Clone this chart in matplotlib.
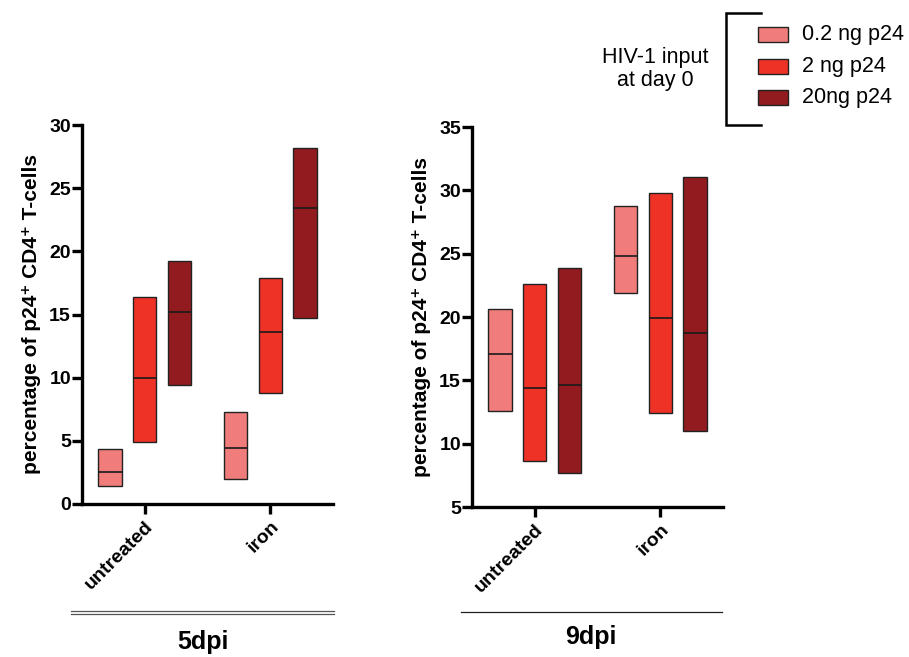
import matplotlib
matplotlib.use("Agg")
import matplotlib.pyplot as plt
from matplotlib.patches import Rectangle
from matplotlib.lines import Line2D
import numpy as np

plt.rcParams['font.family'] = ['Liberation Sans', 'DejaVu Sans']

categories = ["untreated", "iron"]
series_labels = ["0.2 ng p24", "2 ng p24", "20ng p24"]
colors = ["#F07D7B", "#EE3326", "#911B1F"]

# 5dpi: [min, median, max] per series, per category
dpi5_low = [[1.45, 2.0], [4.9, 8.8], [9.4, 14.7]]
dpi5_med = [[2.55, 4.4], [9.95, 13.65], [15.2, 23.4]]
dpi5_high = [[4.35, 7.3], [16.4, 17.85], [19.25, 28.15]]

# 9dpi
dpi9_low = [[12.6, 21.9], [8.6, 12.4], [7.7, 11.0]]
dpi9_med = [[17.05, 24.85], [14.4, 19.9], [14.6, 18.75]]
dpi9_high = [[20.6, 28.75], [22.6, 29.75], [23.85, 31.05]]

panel_titles = ["5dpi", "9dpi"]
ylims = [(0, 30), (5, 35)]
yticks = [[0, 5, 10, 15, 20, 25, 30], [5, 10, 15, 20, 25, 30, 35]]

W, H = 909, 657
fig = plt.figure(figsize=(W / 100, H / 100), dpi=100)

def fx(px):
    return px / W

def fy(py):
    return 1 - py / H

axes_px = [(82, 125, 333, 504), (472, 127, 723, 507)]
data = [(dpi5_low, dpi5_med, dpi5_high), (dpi9_low, dpi9_med, dpi9_high)]

bar_w = 0.185
offset = 0.277
for i, (x0, y0, x1, y1) in enumerate(axes_px):
    ax = fig.add_axes([fx(x0), fy(y1), fx(x1) - fx(x0), fy(y0) - fy(y1)])
    low, med, high = data[i]
    xs = np.arange(len(categories))
    for s in range(3):
        pos = xs + (s - 1) * offset
        lo = np.array(low[s]); hi = np.array(high[s]); md = np.array(med[s])
        ax.bar(pos, hi - lo, bottom=lo, width=bar_w, color=colors[s],
               edgecolor="#222222", linewidth=1.0, zorder=2)
        ax.hlines(md, pos - bar_w / 2, pos + bar_w / 2, color="#1a1a1a",
                  linewidth=1.2, zorder=3)
    ax.set_xlim(-0.5, 1.5)
    ax.set_ylim(*ylims[i])
    ax.set_yticks(yticks[i])
    ax.set_xticks(xs)
    ax.set_xticklabels(categories, rotation=45, ha="right",
                       rotation_mode="anchor", fontsize=14, fontweight="bold")
    for lab in ax.get_yticklabels():
        lab.set_fontweight("bold")
        lab.set_fontsize(14)
    for sp in ["top", "right"]:
        ax.spines[sp].set_visible(False)
    for sp in ["left", "bottom"]:
        ax.spines[sp].set_linewidth(2.4)
    ax.tick_params(axis="both", width=2.4, length=7, pad=1)
    ax.tick_params(axis="x", pad=3)
    ax.set_ylabel("percentage of p24\u207a CD4\u207a T-cells", fontsize=15,
                  fontweight="bold", labelpad=6)
    ax.patch.set_alpha(0)

# bottom group lines and titles
fig.add_artist(Line2D([fx(71), fx(334)], [fy(611), fy(611)], color="#555555", lw=0.9))
fig.add_artist(Line2D([fx(71), fx(334)], [fy(613.5), fy(613.5)], color="#555555", lw=0.9))
fig.text(fx(203), fy(642), panel_titles[0], ha="center", va="center",
         fontsize=18, fontweight="bold")
fig.add_artist(Line2D([fx(461), fx(722)], [fy(612), fy(612)], color="#222222", lw=0.9))
fig.text(fx(591), fy(637), panel_titles[1], ha="center", va="center",
         fontsize=18, fontweight="bold")

# legend
fig.add_artist(Line2D([fx(761), fx(726), fx(726), fx(761)],
                      [fy(13), fy(13), fy(125), fy(125)], color="black", lw=1.8,
                      solid_joinstyle="miter"))
row_y = [34.5, 66.5, 97.5]
for s in range(3):
    fig.add_artist(Rectangle((fx(758), fy(row_y[s] + 7.5)), fx(788) - fx(758),
                             fy(row_y[s] - 7.5) - fy(row_y[s] + 7.5),
                             transform=fig.transFigure, facecolor=colors[s],
                             edgecolor="#222222", linewidth=1.0))
    fig.text(fx(802), fy(row_y[s]), series_labels[s], ha="left", va="center",
             fontsize=15.5)
fig.text(fx(655), fy(69), "HIV-1 input\nat day 0", ha="center", va="center",
         fontsize=15.5, linespacing=1.1)

fig.savefig("out.png", dpi=100)
